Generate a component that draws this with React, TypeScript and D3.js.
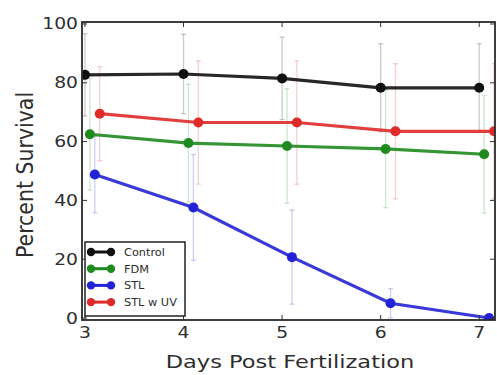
import { useEffect, useRef } from 'react';
import * as d3 from 'd3';

const days = [3, 4, 5, 6, 7];
const seriesNames = ['Control', 'FDM', 'STL', 'STL w UV'];
const seriesColors = ['#111111', '#1f8a1f', '#2323d6', '#e02a2a'];
const seriesOffsets = [0, 0.05, 0.1, 0.15];

const control = [82.7, 83, 81.5, 78.3, 78.3];
const controlErr = [14, 13.5, 14, 15, 15];
const fdm = [62.5, 59.5, 58.5, 57.5, 55.7];
const fdmErr = [19, 20, 19.5, 20, 20];
const stl = [48.8, 37.6, 20.7, 5, 0];
const stlErr = [13, 18, 16, 5, 0.5];
const stlUv = [69.5, 66.5, 66.5, 63.5, 63.5];
const stlUvErr = [16, 21, 21, 23, 23];

const yTicks = [0, 20, 40, 60, 80, 100];
const xTicks = [3, 4, 5, 6, 7];

interface Pt { x: number; y: number; e: number; }

export default function App() {
  const svgRef = useRef<SVGSVGElement>(null);
  const width = 497;
  const height = 375;

  useEffect(() => {
    if (!svgRef.current) return;
    const svg = d3.select(svgRef.current);
    svg.selectAll('*').remove();

    const left = 82, right = 495, top = 22, bottom = 320;
    const font = 'DejaVu Sans, sans-serif';
    const textColor = '#2e2e2e';
    // the source picture is stretched a bit horizontally
    const stretch = 1.25;

    const xScale = d3.scaleLinear().domain([2.97, 7.16]).range([left, right]);
    const yScale = d3.scaleLinear().domain([-0.68, 100.68]).range([bottom, top]);

    svg.append('rect').attr('width', width).attr('height', height).attr('fill', '#fff');

    svg.append('defs').append('clipPath').attr('id', 'plot-clip')
      .append('rect')
      .attr('x', left).attr('y', top)
      .attr('width', right - left).attr('height', bottom - top);

    const values = [control, fdm, stl, stlUv];
    const errors = [controlErr, fdmErr, stlErr, stlUvErr];
    const series: Pt[][] = values.map((vals, s) =>
      days.map((d, i) => ({ x: d + seriesOffsets[s], y: vals[i], e: errors[s][i] })));

    const plot = svg.append('g').attr('clip-path', 'url(#plot-clip)');

    // error bars
    series.forEach((pts, s) => {
      const g = plot.append('g')
        .attr('stroke', seriesColors[s])
        .attr('stroke-opacity', 0.22)
        .attr('stroke-width', 1.3);
      pts.forEach(p => {
        const cx = xScale(p.x);
        g.append('line')
          .attr('x1', cx).attr('x2', cx)
          .attr('y1', yScale(p.y - p.e)).attr('y2', yScale(p.y + p.e));
        [p.y - p.e, p.y + p.e].forEach(v => {
          g.append('line')
            .attr('x1', cx - 2.5).attr('x2', cx + 2.5)
            .attr('y1', yScale(v)).attr('y2', yScale(v));
        });
      });
    });

    const line = d3.line<Pt>().x(d => xScale(d.x)).y(d => yScale(d.y));

    series.forEach((pts, s) => {
      plot.append('path')
        .datum(pts)
        .attr('fill', 'none')
        .attr('stroke', seriesColors[s])
        .attr('stroke-width', 3.2)
        .attr('stroke-opacity', 0.9)
        .attr('d', line);
      plot.selectAll(null)
        .data(pts)
        .enter()
        .append('circle')
        .attr('cx', d => xScale(d.x))
        .attr('cy', d => yScale(d.y))
        .attr('r', 5)
        .attr('fill', seriesColors[s]);
    });

    // ticks (inward, all sides)
    const tickG = svg.append('g').attr('stroke', '#333').attr('stroke-width', 1);
    xTicks.forEach(t => {
      const x = xScale(t);
      tickG.append('line').attr('x1', x).attr('x2', x).attr('y1', bottom).attr('y2', bottom - 5);
      tickG.append('line').attr('x1', x).attr('x2', x).attr('y1', top).attr('y2', top + 5);
    });
    yTicks.forEach(t => {
      const y = yScale(t);
      tickG.append('line').attr('x1', left).attr('x2', left + 5).attr('y1', y).attr('y2', y);
      tickG.append('line').attr('x1', right).attr('x2', right - 5).attr('y1', y).attr('y2', y);
    });

    // frame
    svg.append('rect')
      .attr('x', left).attr('y', top)
      .attr('width', right - left).attr('height', bottom - top)
      .attr('fill', 'none')
      .attr('stroke', '#2a2a2a')
      .attr('stroke-width', 1.8);

    // tick labels
    svg.selectAll('.xl')
      .data(xTicks)
      .enter()
      .append('text')
      .attr('transform', d => `translate(${xScale(d)},338) scale(${stretch},1)`)
      .attr('text-anchor', 'middle')
      .attr('font-family', font)
      .attr('font-size', 15)
      .attr('fill', textColor)
      .text(d => `${d}`);

    svg.selectAll('.yl')
      .data(yTicks)
      .enter()
      .append('text')
      .attr('transform', d => `translate(78,${yScale(d) + 5.5}) scale(${stretch},1)`)
      .attr('text-anchor', 'end')
      .attr('font-family', font)
      .attr('font-size', 15)
      .attr('fill', textColor)
      .text(d => `${d}`);

    // axis titles
    svg.append('text')
      .attr('transform', `translate(290,368) scale(${stretch},1)`)
      .attr('text-anchor', 'middle')
      .attr('font-family', font)
      .attr('font-size', 18)
      .attr('fill', textColor)
      .text('Days Post Fertilization');

    svg.append('text')
      .attr('transform', 'translate(33,175) rotate(-90) scale(1,1.15)')
      .attr('text-anchor', 'middle')
      .attr('font-family', font)
      .attr('font-size', 20.5)
      .attr('fill', textColor)
      .text('Percent Survival');

    // legend
    const legend = svg.append('g');
    legend.append('rect')
      .attr('x', 85).attr('y', 242)
      .attr('width', 100).attr('height', 74)
      .attr('fill', '#fff')
      .attr('stroke', '#222')
      .attr('stroke-width', 1.5);
    seriesNames.forEach((name, i) => {
      const y = 252 + i * 16.7;
      legend.append('line')
        .attr('x1', 91).attr('x2', 111)
        .attr('y1', y).attr('y2', y)
        .attr('stroke', seriesColors[i])
        .attr('stroke-width', 3);
      [91, 111].forEach(cx => {
        legend.append('circle')
          .attr('cx', cx).attr('cy', y).attr('r', 4.2)
          .attr('fill', seriesColors[i]);
      });
      legend.append('text')
        .attr('transform', `translate(124,${y + 4}) scale(1.08,1)`)
        .attr('font-family', font)
        .attr('font-size', 10.5)
        .attr('fill', textColor)
        .text(name);
    });
  }, []);

  return (
    <svg
      ref={svgRef}
      width={width}
      height={height}
      style={{ position: 'absolute', left: 0, top: 0, display: 'block' }}
    />
  );
}
